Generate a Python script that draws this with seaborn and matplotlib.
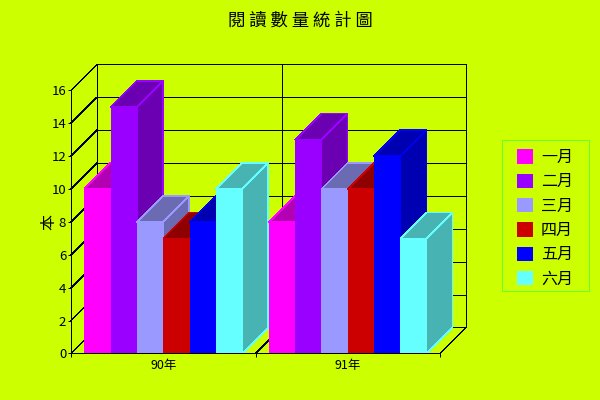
#!/usr/bin/env python3
"""Grafico de barras 3D falso: numero de livros lidos por mes."""

import matplotlib
matplotlib.use("Agg")
import matplotlib.pyplot as plt
import pandas as pd
import seaborn as sns
from matplotlib.patches import Rectangle

TITULO = "閱 讀 數 量 統 計 圖"
EIXO_Y = "本"
ANOS = ["90年", "91年"]
MESES = ["一月", "二月", "三月", "四月", "五月", "六月"]

JAN = [10, 8]
FEV = [15, 13]
MAR = [8, 10]
ABR = [7, 10]
MAI = [8, 12]
JUN = [10, 7]

CORES = ["#ff00ff", "#9900ff", "#9999ff", "#cc0000", "#0000ff", "#66ffff"]
FUNDO = "#ccff00"
BORDA_LEGENDA = "#66ff33"

# Deslocamento da profundidade, em unidades dos dados
PROF_X = 26 / 184.5
PROF_Y = 26 / 16.44
LINHA = 0.72  # 1 pixel
LINHA_FINA = 0.4  # diagonais sem antialiasing ficam grossas


def escurecer(cor):
    r, g, b = matplotlib.colors.to_rgb(cor)
    return (r * 0.7, g * 0.7, b * 0.7)


def desenhar_paredes(ax):
    """Parede do fundo, linhas de grade e diagonais do piso e da lateral."""
    esq, dir_ = -0.5, 1.5
    topo = 16
    estilo = dict(color="black", lw=LINHA, clip_on=False, zorder=1)
    diagonal = dict(color="black", lw=LINHA_FINA, clip_on=False, zorder=1)
    for y in range(0, topo + 1, 2):
        ax.plot([esq, esq + PROF_X], [y, y + PROF_Y], **diagonal)
        ax.plot([esq + PROF_X, dir_ + PROF_X], [y + PROF_Y, y + PROF_Y], **estilo)
    for x in [esq, 0.5, dir_]:
        ax.plot([x + PROF_X, x + PROF_X], [PROF_Y, topo + PROF_Y], **estilo)
    for x in [0.5, dir_]:
        ax.plot([x, x + PROF_X], [0, PROF_Y], **diagonal)


def desenhar_profundidade(ax, barra, cor, ordem):
    """Topo e lateral de uma barra, a partir do retangulo feito pelo seaborn."""
    x0 = barra.get_x()
    x1 = x0 + barra.get_width()
    h = barra.get_height()
    sombra = escurecer(cor)
    estilo = dict(facecolor=sombra, edgecolor=cor, lw=LINHA_FINA, clip_on=False, zorder=ordem)
    ax.fill([x0, x1, x1 + PROF_X, x0 + PROF_X],
            [h, h, h + PROF_Y, h + PROF_Y], **estilo)
    ax.fill([x1, x1 + PROF_X, x1 + PROF_X, x1],
            [0, PROF_Y, h + PROF_Y, h], **estilo)
    barra.set_zorder(ordem + 0.5)


def main():
    sns.set_theme(style="white")
    plt.rcParams["font.family"] = ["Noto Sans CJK TC", "DejaVu Sans"]
    plt.rcParams["lines.antialiased"] = False
    plt.rcParams["patch.antialiased"] = False

    series = [JAN, FEV, MAR, ABR, MAI, JUN]
    linhas = []
    for mes, valores in zip(MESES, series):
        for ano, valor in zip(ANOS, valores):
            linhas.append({"ano": ano, "mes": mes, "valor": valor})
    df = pd.DataFrame(linhas)

    fig = plt.figure(figsize=(6, 4), dpi=100, facecolor=FUNDO)
    ax = fig.add_axes([71 / 600, 46.6 / 400, 369 / 600, 263 / 400])
    ax.patch.set_alpha(0)

    sns.barplot(data=df, x="ano", y="valor", hue="mes", hue_order=MESES,
                palette=CORES, saturation=1, width=0.856, gap=0, errorbar=None,
                linewidth=0, ax=ax)

    desenhar_paredes(ax)

    # Da esquerda para a direita: cada barra cobre a lateral da anterior
    ordem = 2
    for g in range(len(ANOS)):
        for h, cor in enumerate(CORES):
            desenhar_profundidade(ax, ax.containers[h][g], cor, ordem)
            ordem += 1

    ax.set_xlim(-0.5, 1.5)
    ax.set_ylim(0, 16)
    ax.set_yticks(range(0, 17, 2))
    ax.set_xticks([0, 1])
    ax.set_xticklabels(ANOS)
    ax.set_xticks([-0.5, 0.5, 1.5], minor=True)
    ax.tick_params(axis="x", which="major", length=0, labelsize=9, pad=4, colors="black")
    ax.tick_params(axis="x", which="minor", length=3, width=LINHA, color="black", bottom=True)
    ax.tick_params(axis="y", length=2.5, width=LINHA, color="black", left=True,
                   labelsize=9.5, pad=1, labelcolor="black")
    ax.set_xlabel("")
    ax.set_ylabel(EIXO_Y, fontsize=11.5, color="black", labelpad=-4)

    sns.despine(ax=ax)
    for lado in ["left", "bottom"]:
        ax.spines[lado].set_color("black")
        ax.spines[lado].set_linewidth(LINHA)
        ax.spines[lado].set_zorder(100)

    # Moldura separada: as margens horizontal e vertical da legenda sao diferentes
    fig.add_artist(Rectangle((502 / 600, 1 - 291 / 400), 87 / 600, 151 / 400,
                             transform=fig.transFigure, facecolor="none",
                             edgecolor=BORDA_LEGENDA, lw=LINHA))
    sns.move_legend(ax, "upper left", bbox_to_anchor=(517 / 600, 1 - 149 / 400),
                    bbox_transform=fig.transFigure, title=None, frameon=False,
                    fontsize=11.5, handlelength=1, handleheight=1,
                    labelspacing=0.46, handletextpad=0.5, borderaxespad=0,
                    borderpad=0)
    for texto in ax.get_legend().get_texts():
        texto.set_color("black")

    fig.text(300 / 600, 1 - 21 / 400, TITULO, ha="center", va="center",
             fontsize=12.5, color="black")

    fig.savefig("out.png", dpi=100, facecolor=FUNDO)
    plt.close(fig)


if __name__ == "__main__":
    main()
